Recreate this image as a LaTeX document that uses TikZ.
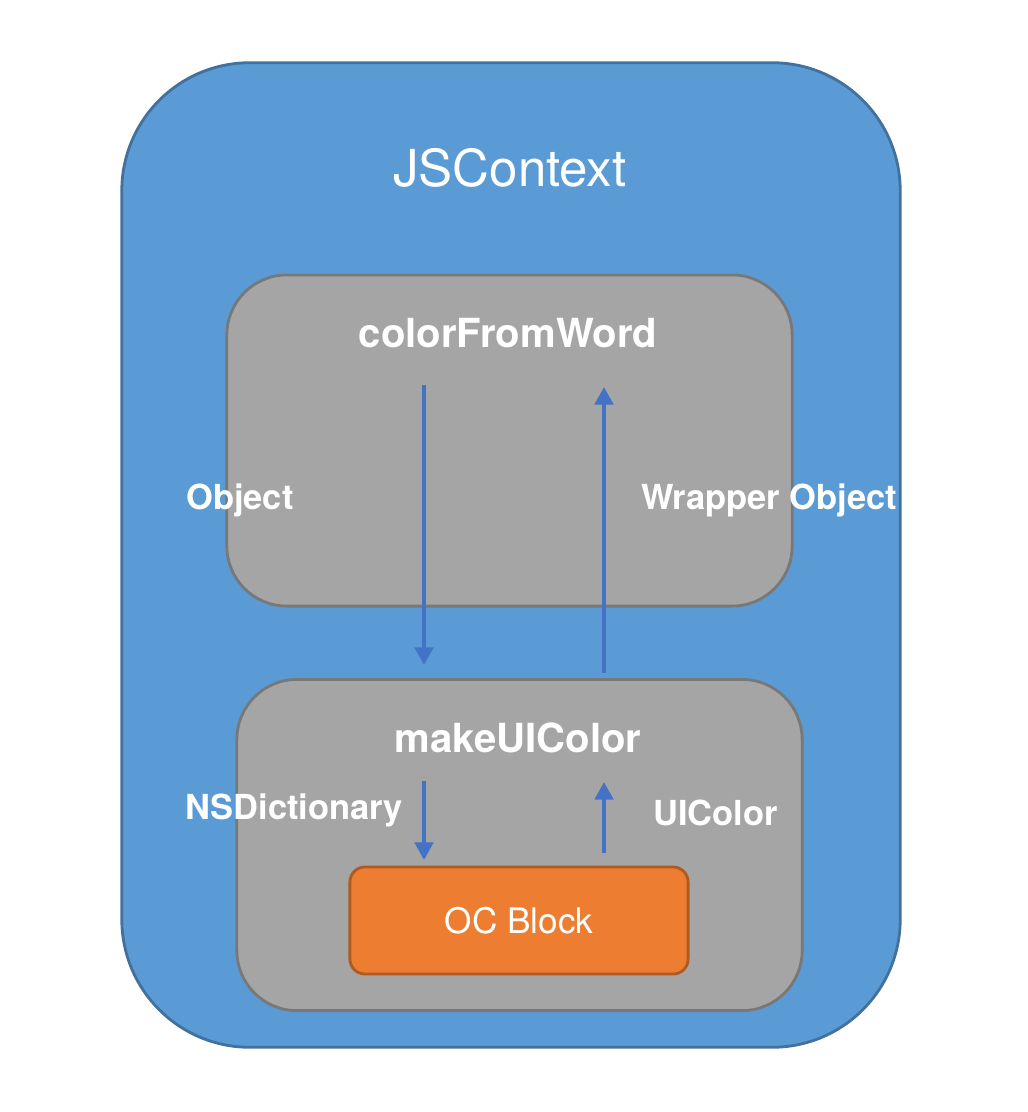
\documentclass[tikz,border=0pt]{standalone}
\usepackage{fontspec}
\setmainfont{TeX Gyre Heros}
\usetikzlibrary{arrows.meta}

\definecolor{ctxblue}{HTML}{5B9BD5}
\definecolor{ctxedge}{HTML}{41719C}
\definecolor{fngray}{HTML}{A5A5A5}
\definecolor{fnedge}{HTML}{787878}
\definecolor{blkorange}{HTML}{ED7D31}
\definecolor{blkedge}{HTML}{AE5A21}
\definecolor{flowblue}{HTML}{4472C4}

\tikzset{
	ctxbox/.style={shape=rectangle, fill=ctxblue, draw=ctxedge, line width=0.8pt, rounded corners=1.28cm, minimum width=7.78cm, minimum height=9.84cm, inner sep=0pt},
	fnbox/.style={shape=rectangle, fill=fngray, draw=fnedge, line width=0.8pt, rounded corners=0.6cm, minimum width=5.65cm, minimum height=3.31cm, inner sep=0pt},
	blkbox/.style={shape=rectangle, fill=blkorange, draw=blkedge, line width=0.8pt, rounded corners=0.15cm, minimum width=3.38cm, minimum height=1.07cm, inner sep=0pt, text=white, font=\fontsize{10}{12}\selectfont},
	title/.style={text=white, inner sep=0pt, font=\bfseries\fontsize{11.4}{13}\selectfont},
	lbl/.style={text=white, inner sep=0pt, font=\bfseries\fontsize{9.8}{12}\selectfont},
	flow/.style={-{Triangle[width=5.2pt,length=5pt]}, line width=1.15pt, flowblue}
}

\begin{document}
\begin{tikzpicture}[x=0.01cm,y=-0.01cm]
	\useasboundingbox (0,0) rectangle (1028,1112);
	
	\node[ctxbox] (ctx) at (511,555) {};
	\node[fnbox] (word) at (509.5,440.5) {};
	\node[fnbox] (make) at (519.5,845) {};
	\node[blkbox] (oc) at (519,920.5) {OC Block};
	
	\node[text=white, inner sep=0pt, font=\fontsize{14.5}{17}\selectfont] (ctxlbl) at (510,168) {JSContext};
	\node[title] (wordlbl) at (508,333) {colorFromWord};
	\node[title] (makelbl) at (518,738) {makeUIColor};
	\node[lbl] (objlbl) at (240,500) {Object};
	\node[lbl] (wraplbl) at (769,500) {Wrapper Object};
	\node[lbl] (dictlbl) at (294.5,810) {NSDictionary};
	\node[lbl] (uilbl) at (715.5,813) {UIColor};
	
	\coordinate (a1) at (424,385); \coordinate (a2) at (424,665);
	\coordinate (b1) at (604,673); \coordinate (b2) at (604,387);
	\coordinate (c1) at (424,781); \coordinate (c2) at (424,860);
	\coordinate (d1) at (604,853); \coordinate (d2) at (604,782);
	
	\path [flow] (a1) edge (a2);
	\path [flow] (b1) edge (b2);
	\path [flow] (c1) edge (c2);
	\path [flow] (d1) edge (d2);
\end{tikzpicture}
\end{document}
